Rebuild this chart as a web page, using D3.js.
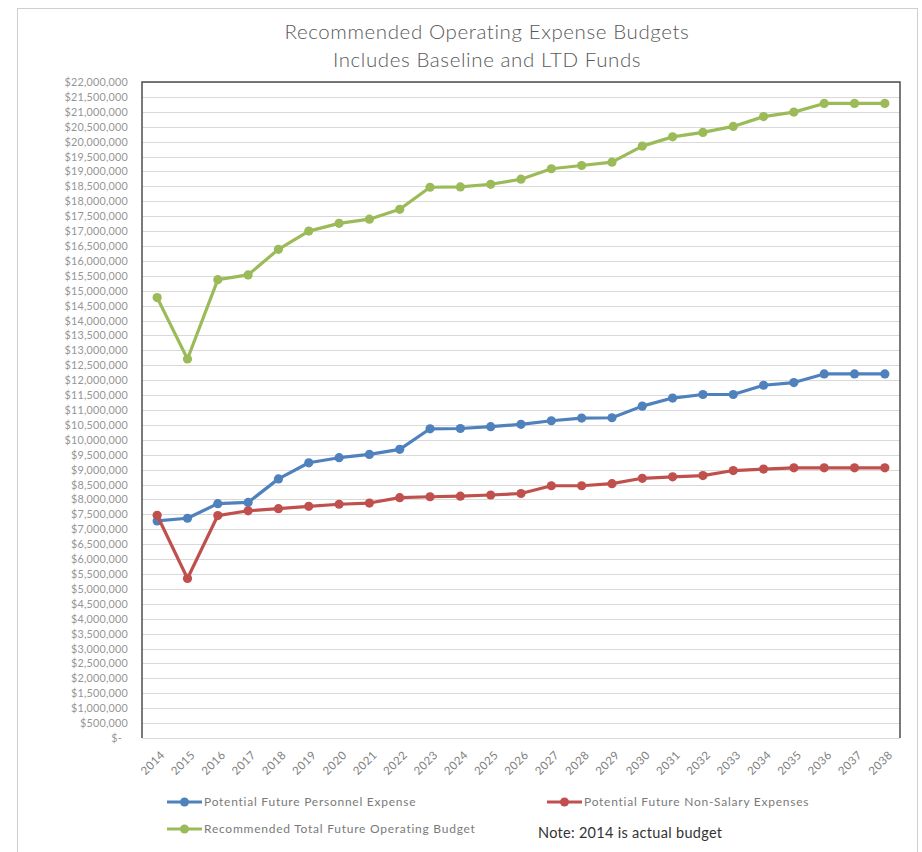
<!DOCTYPE html>
<html>
<head>
<meta charset="utf-8">
<script src="https://cdn.jsdelivr.net/npm/d3@7/dist/d3.min.js"></script>
<style>
  html, body { margin: 0; padding: 0; background: #fff; }
  svg { display: block; font-family: Lato, "Open Sans", sans-serif; }
</style>
</head>
<body>
<svg id="chart" width="922" height="852"></svg>
<script>
// Fiscal years
const years = ["2014","2015","2016","2017","2018","2019","2020","2021","2022","2023","2024","2025","2026",
               "2027","2028","2029","2030","2031","2032","2033","2034","2035","2036","2037","2038"];

// Budget series, in dollars
const personnel = [7280000, 7370000, 7860000, 7900000, 8690000, 9230000, 9400000, 9510000, 9680000,
                   10370000, 10380000, 10440000, 10520000, 10640000, 10730000, 10740000, 11130000,
                   11400000, 11520000, 11520000, 11830000, 11920000, 12210000, 12210000, 12210000];
const nonSalary = [7470000, 5350000, 7460000, 7620000, 7690000, 7770000, 7840000, 7880000, 8060000,
                   8090000, 8110000, 8150000, 8200000, 8460000, 8460000, 8530000, 8710000,
                   8760000, 8800000, 8970000, 9020000, 9060000, 9060000, 9060000, 9060000];
const total = [14770000, 12710000, 15370000, 15530000, 16390000, 17000000, 17260000, 17400000, 17730000,
               18470000, 18480000, 18570000, 18740000, 19090000, 19200000, 19310000, 19850000,
               20160000, 20310000, 20510000, 20840000, 20990000, 21280000, 21280000, 21280000];

// Axis ticks: every $500,000 up to $22,000,000
const yTicks = d3.range(0, 22000001, 500000);

const titleLines = ["Recommended Operating Expense Budgets", "Includes Baseline and LTD Funds"];
const note = "Note: 2014 is actual budget";

const series = [
  { name: "Potential Future Personnel Expense", values: personnel, color: "#4F81BD" },
  { name: "Potential Future Non-Salary Expenses", values: nonSalary, color: "#C0504D" },
  { name: "Recommended Total Future Operating Budget", values: total, color: "#9BBB59" }
];

const svg = d3.select("#chart");
const plot = { left: 142, right: 900, top: 82, bottom: 738 };

// Outer chart border
svg.append("rect")
  .attr("x", 17.5).attr("y", 8.5).attr("width", 900).attr("height", 860)
  .attr("fill", "#fff").attr("stroke", "#cfcfcf").attr("stroke-width", 1);

const x = d3.scalePoint().domain(years).range([plot.left, plot.right]).padding(0.5);
const y = d3.scaleLinear().domain([0, 22000000]).range([plot.bottom, plot.top]);

// Gridlines
svg.append("g")
  .selectAll("line")
  .data(yTicks)
  .join("line")
  .attr("x1", plot.left).attr("x2", plot.right)
  .attr("y1", d => Math.round(y(d)) + 0.5).attr("y2", d => Math.round(y(d)) + 0.5)
  .attr("stroke", "#d9d9d9").attr("stroke-width", 1.2);

// Y axis labels
const fmt = d3.format("$,");
const yAxis = svg.append("g")
  .attr("transform", `translate(${plot.left},0)`)
  .call(d3.axisLeft(y).tickValues(yTicks).tickSize(0).tickPadding(14)
        .tickFormat(d => d === 0 ? "$-" : fmt(d)));
yAxis.select(".domain").remove();
yAxis.selectAll("text")
  .attr("fill", "#959595").style("font-size", "10.8px").style("letter-spacing", "0.2px")
  .style("font-family", "Lato, sans-serif");
yAxis.selectAll(".tick").filter(d => d === 0).select("text").attr("dx", "-6");

// X axis labels
const xAxis = svg.append("g")
  .attr("transform", `translate(0,${plot.bottom})`)
  .call(d3.axisBottom(x).tickSize(0).tickPadding(0));
xAxis.select(".domain").remove();
xAxis.selectAll("text")
  .attr("fill", "#7f7f7f").style("font-size", "11.5px").style("letter-spacing", "0.4px")
  .style("font-family", "Lato, sans-serif")
  .attr("text-anchor", "end")
  .attr("transform", "translate(5,15) rotate(-45)")
  .attr("dy", "0.35em");

// Plot frame (top, left, right)
svg.append("path")
  .attr("d", `M${plot.left},${plot.bottom}V${plot.top}H${plot.right}V${plot.bottom}`)
  .attr("fill", "none").attr("stroke", "#4d4d4d").attr("stroke-width", 1.5);

// Lines and markers
const line = d3.line().x((d, i) => x(years[i])).y(d => y(d));
const sg = svg.append("g").selectAll("g").data(series).join("g");
sg.append("path")
  .attr("d", d => line(d.values))
  .attr("fill", "none").attr("stroke", d => d.color)
  .attr("stroke-width", 3.2).attr("stroke-linejoin", "round");
sg.selectAll("circle")
  .data(d => d.values.map((v, i) => ({ v, i, color: d.color })))
  .join("circle")
  .attr("cx", d => x(years[d.i])).attr("cy", d => y(d.v))
  .attr("r", 4.6).attr("fill", d => d.color);

// Title
svg.append("g").selectAll("text")
  .data(titleLines)
  .join("text")
  .attr("x", 487).attr("y", (d, i) => 39 + i * 28)
  .attr("text-anchor", "middle")
  .attr("fill", "#595959").style("font-size", "20.5px").style("font-weight", 300)
  .style("letter-spacing", "0.6px")
  .text(d => d);

// Legend
const legendPos = [
  { x: 167, y: 802 },
  { x: 547, y: 802 },
  { x: 167, y: 829 }
];
const lg = svg.append("g").selectAll("g").data(series).join("g")
  .attr("transform", (d, i) => `translate(${legendPos[i].x},${legendPos[i].y})`);
lg.append("line").attr("x1", 0).attr("x2", 35).attr("y1", 0).attr("y2", 0)
  .attr("stroke", d => d.color).attr("stroke-width", 3);
lg.append("circle").attr("cx", 17.5).attr("cy", 0).attr("r", 4.5).attr("fill", d => d.color);
lg.append("text").attr("x", 37).attr("y", 0).attr("dy", "0.35em")
  .attr("fill", "#7a7a7a").style("font-size", "12px").style("letter-spacing", "0.75px")
  .text(d => d.name);

svg.append("text")
  .attr("x", 538).attr("y", 833).attr("dy", "0.35em")
  .attr("fill", "#333").style("font-size", "14.5px").style("letter-spacing", "0.3px")
  .text(note);
</script>
</body>
</html>
